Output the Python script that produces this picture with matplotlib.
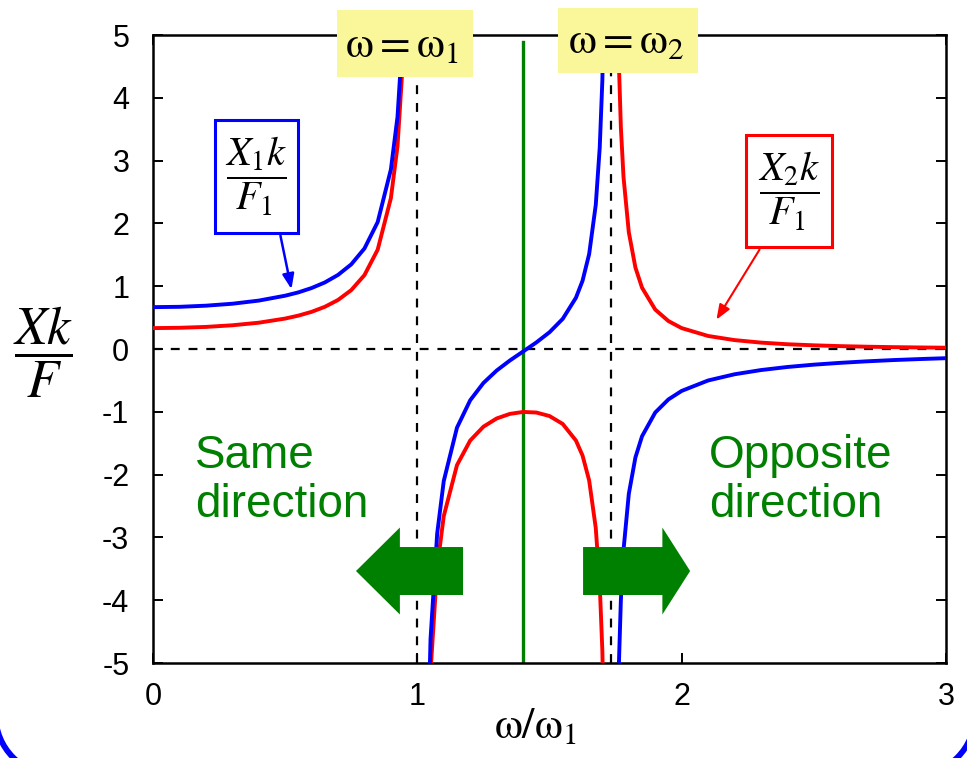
import matplotlib
matplotlib.use("Agg")
import matplotlib.pyplot as plt
from matplotlib.patches import FancyArrow, Rectangle, Arc

plt.rcParams['mathtext.fontset'] = 'stix'
plt.rcParams['font.family'] = ['Liberation Sans', 'DejaVu Sans']

# ---- data: omega/omega1 samples and responses (three branches) ----
r_left = [0.0, 0.1, 0.2, 0.3, 0.4, 0.5, 0.55, 0.6, 0.65, 0.7, 0.75, 0.8, 0.85, 0.9, 0.925, 0.95, 0.96]
x1_left = [0.667, 0.672, 0.690, 0.721, 0.771, 0.849, 0.902, 0.971, 1.060, 1.180, 1.348, 1.601, 2.021, 2.860, 3.696, 5.367, 6.618]
x2_left = [0.333, 0.338, 0.352, 0.378, 0.419, 0.485, 0.532, 0.592, 0.672, 0.781, 0.938, 1.177, 1.582, 2.403, 3.230, 4.890, 6.137]

r_mid = [1.03, 1.05, 1.075, 1.1, 1.15, 1.2, 1.25, 1.3, 1.35, 1.4, 1.45, 1.5, 1.55, 1.6, 1.625, 1.65, 1.675, 1.69, 1.7, 1.71]
x1_mid = [-7.952, -4.615, -2.942, -2.102, -1.252, -0.816, -0.541, -0.343, -0.183, -0.040, 0.104, 0.267, 0.480, 0.816, 1.087, 1.512, 2.295, 3.205, 4.281, 6.328]
x2_mid = [-8.468, -5.142, -3.484, -2.660, -1.849, -1.457, -1.237, -1.106, -1.033, -1.002, -1.011, -1.067, -1.193, -1.457, -1.696, -2.092, -2.849, -3.744, -4.810, -6.848]

r_right = [1.75, 1.76, 1.77, 1.78, 1.8, 1.825, 1.85, 1.9, 1.95, 2.0, 2.1, 2.2, 2.3, 2.4, 2.5, 2.6, 2.7, 2.8, 2.9, 3.0]
x1_right = [-8.242, -5.361, -3.997, -3.200, -2.307, -1.727, -1.390, -1.011, -0.802, -0.667, -0.501, -0.402, -0.335, -0.286, -0.249, -0.220, -0.196, -0.176, -0.160, -0.146]
x2_right = [7.757, 4.885, 3.528, 2.739, 1.860, 1.298, 0.977, 0.628, 0.445, 0.333, 0.208, 0.142, 0.102, 0.076, 0.059, 0.046, 0.037, 0.030, 0.025, 0.021]

w1 = 1.0
w2 = 1.732
w_mid = 1.4

xticks = [0, 1, 2, 3]
yticks = [-5, -4, -3, -2, -1, 0, 1, 2, 3, 4, 5]

BLUE = '#0000FF'
RED = '#FF0000'
GREEN = '#008000'
YELLOW = '#FAF79A'

fig = plt.figure(figsize=(9.67, 7.58), dpi=100)

# overlay in pixel units for the slide frame (only bottom corners visible)
bg = fig.add_axes([0, 0, 1, 1], zorder=0)
bg.set_xlim(0, 967)
bg.set_ylim(0, 758)
bg.axis('off')
bg.add_patch(Arc((55.5, 43), 120, 120, theta1=180, theta2=270, color=BLUE, lw=4.2))
bg.add_patch(Arc((915, 43), 120, 120, theta1=270, theta2=360, color=BLUE, lw=4.2))

ax = fig.add_axes([0.1582, 0.1253, 0.9783 - 0.1582, 0.9538 - 0.1253], zorder=1)
ax.patch.set_alpha(0)

# dashed reference lines
ax.axvline(w1, color='black', lw=1.6, ls=(0, (4, 4)), zorder=1)
ax.axvline(w2, color='black', lw=1.6, ls=(0, (4, 4)), zorder=1)
ax.axhline(0, color='black', lw=1.6, ls=(0, (4, 4)), zorder=1)

# curves
for xs, ys in [(r_left, x1_left), (r_mid, x1_mid), (r_right, x1_right)]:
    ax.plot(xs, ys, color=BLUE, lw=2.8, zorder=3, solid_joinstyle='round')
for xs, ys in [(r_left, x2_left), (r_mid, x2_mid), (r_right, x2_right)]:
    ax.plot(xs, ys, color=RED, lw=2.8, zorder=2.9, solid_joinstyle='round')

# green mid line
ax.plot([w_mid, w_mid], [-5, 4.89], color=GREEN, lw=2.4, zorder=2.5)

ax.set_xlim(0, 3)
ax.set_ylim(-5, 5)
ax.set_xticks(xticks)
ax.set_yticks(yticks)
ax.set_xticklabels([str(t) for t in xticks])
ax.set_yticklabels([str(t) for t in yticks])
ax.tick_params(direction='in', length=7, width=1.4, labelsize=22, top=True, right=True)
ax.tick_params(axis='y', pad=17)
ax.tick_params(axis='x', pad=14)
for s in ax.spines.values():
    s.set_linewidth(1.8)

# axis labels
ax.text(1.445, -0.119, r'$\mathrm{\omega/\omega_1}$', transform=ax.get_xaxis_transform(),
        ha='center', va='baseline', fontsize=32)
fig.text(0.045, 0.535, r'$\dfrac{Xk}{F}$', ha='center', va='center', fontsize=38)

# yellow labels
ax.add_patch(Rectangle((0.696, 4.331), 1.211 - 0.696, 5.40 - 4.331, fc=YELLOW, ec='none',
                       clip_on=False, zorder=9))
ax.add_patch(Rectangle((1.532, 4.395), 2.062 - 1.532, 5.43 - 4.395, fc=YELLOW, ec='none',
                       clip_on=False, zorder=9))
ax.text(0.940, 4.65, r'$\mathrm{\omega} = \mathrm{\omega}_1$', ha='center', va='baseline', fontsize=32,
        clip_on=False, zorder=10)
ax.text(1.789, 4.713, r'$\mathrm{\omega} = \mathrm{\omega}_2$', ha='center', va='baseline', fontsize=32,
        clip_on=False, zorder=10)

# curve labels with arrows
ax.annotate('', xy=(0.526, 0.91), xytext=(0.48, 1.85),
            arrowprops=dict(arrowstyle='-|>,head_length=0.9,head_width=0.35', color=BLUE, lw=1.8), zorder=6)
ax.add_patch(Rectangle((0.2346, 1.847), 0.5486 - 0.2346, 3.646 - 1.847, fc='white', ec=BLUE, lw=2.2, zorder=7))
ax.text(0.3916, 2.747, r'$\dfrac{X_1k}{F_1}$', ha='center', va='center', fontsize=29, zorder=8)
ax.annotate('', xy=(2.126, 0.43), xytext=(2.30, 1.62),
            arrowprops=dict(arrowstyle='-|>,head_length=0.9,head_width=0.35', color=RED, lw=1.5), zorder=6)
ax.add_patch(Rectangle((2.243, 1.624), 2.569 - 2.243, 3.408 - 1.624, fc='white', ec=RED, lw=2.2, zorder=7))
ax.text(2.406, 2.516, r'$\dfrac{X_2k}{F_1}$', ha='center', va='center', fontsize=29, zorder=8)

# green texts
for x0, words in [(0.160, ('Same', 'direction')), (2.102, ('Opposite', 'direction'))]:
    ax.text(x0, -1.895, words[0], color=GREEN, fontsize=33, ha='left', va='baseline', zorder=7)
    ax.text(x0, -2.675, words[1], color=GREEN, fontsize=33, ha='left', va='baseline', zorder=7)

# green arrows
ax.add_patch(FancyArrow(1.173, -3.535, -0.405, 0, width=0.764, head_width=1.385, head_length=0.166,
                        length_includes_head=True, color=GREEN, lw=0, zorder=8))
ax.add_patch(FancyArrow(1.627, -3.535, 0.405, 0, width=0.764, head_width=1.385, head_length=0.105,
                        length_includes_head=True, color=GREEN, lw=0, zorder=8))

fig.savefig('out.png', dpi=100)
